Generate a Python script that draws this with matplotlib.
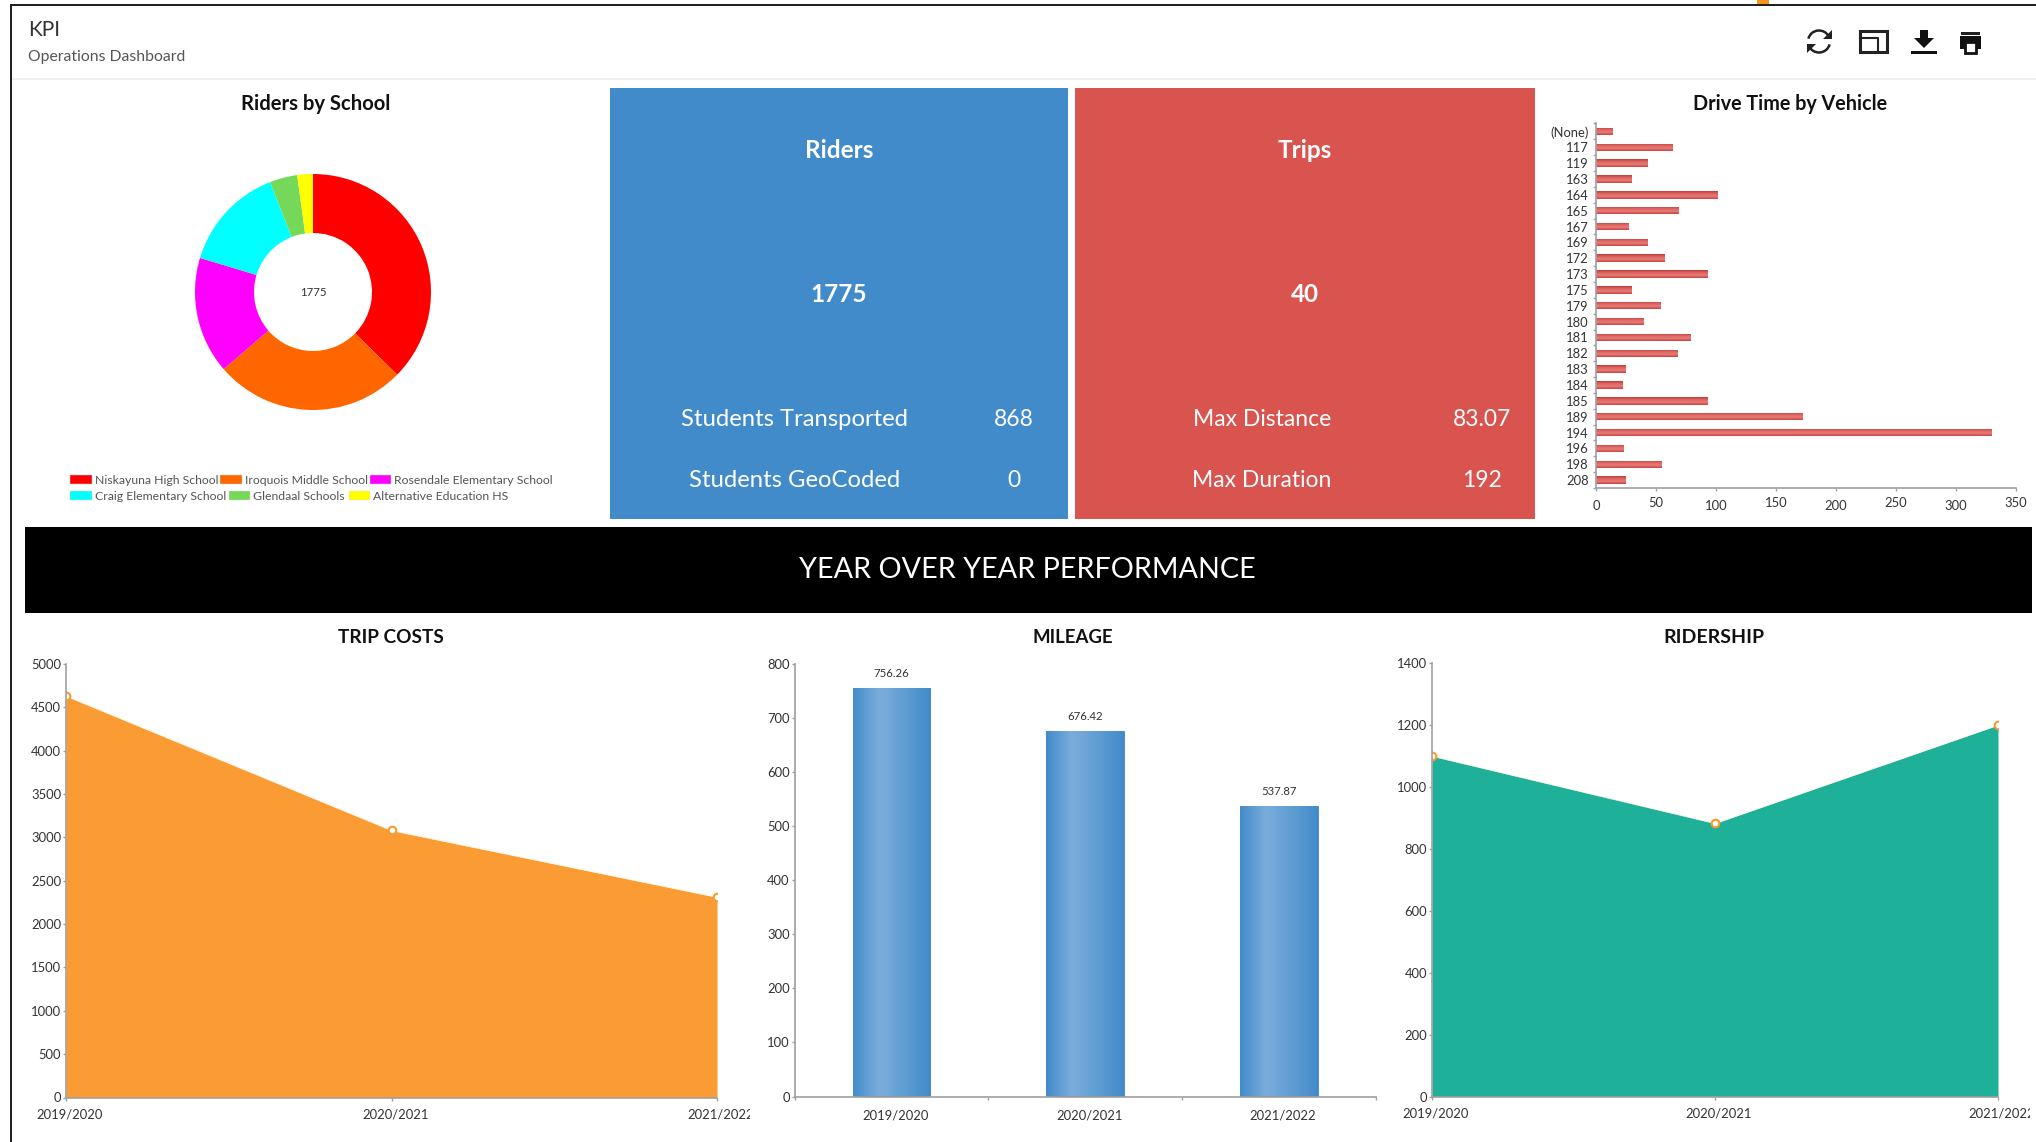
#!/usr/bin/python3
"""KPI operations dashboard."""
import numpy as np
import matplotlib
matplotlib.use('Agg')
import matplotlib.pyplot as plt
from matplotlib.colors import LinearSegmentedColormap
from matplotlib.patches import Rectangle, Polygon, Arc
from matplotlib.transforms import Bbox, ScaledTranslation

plt.rcParams['font.family'] = ['Lato', 'DejaVu Sans']

W, H = 2036, 1142

# riders by school
schools = ['Niskayuna High School', 'Iroquois Middle School',
           'Rosendale Elementary School', 'Craig Elementary School',
           'Glendaal Schools', 'Alternative Education HS']
school_riders = [663, 467, 284, 256, 67, 38]
school_colors = ['#ff0000', '#ff6600', '#ff00ff', '#00ffff', '#75d858', '#ffff00']

# drive time
vehicles = ['(None)', '117', '119', '163', '164', '165', '167', '169', '172',
            '173', '175', '179', '180', '181', '182', '183', '184', '185',
            '189', '194', '196', '198', '208']
drive_time = [14, 64, 43, 30, 101, 69, 27, 43, 57, 93, 30, 54, 40, 79, 68, 25,
              22, 93, 172, 330, 23, 55, 25]

# year over year
years = ['2019/2020', '2020/2021', '2021/2022']
trip_costs = [4630, 3080, 2310]
mileage = [756.26, 676.42, 537.87]
ridership = [1098, 881, 1198]

GRID = '#a0a0a0'
TICK_TEXT = '#333333'


def axes_px(fig, x0, y0, x1, y1):
  # pixel box measured from the top left of the picture
  return fig.add_axes([x0 / W, 1 - y1 / H, (x1 - x0) / W, (y1 - y0) / H])


def style_axes(ax):
  ax.patch.set_alpha(0)
  for name in ['top', 'right']:
    ax.spines[name].set_visible(False)
  for name in ['left', 'bottom']:
    ax.spines[name].set_color(GRID)
    ax.spines[name].set_linewidth(1.2)
  ax.tick_params(colors=TICK_TEXT, labelsize=9.4, length=2.5, width=1,
                 color=GRID, pad=1)


def shift_labels(ax, fig, dx_px):
  # category labels in the original sit a few pixels right of their ticks
  offset = ScaledTranslation(dx_px / 100, 0, fig.dpi_scale_trans)
  for lbl in ax.get_xticklabels():
    lbl.set_transform(lbl.get_transform() + offset)


def area_chart(fig, box, values, ymax, ystep, color, clip_x):
  ax = axes_px(fig, *box)
  style_axes(ax)
  xs = np.arange(len(values))
  ax.fill_between(xs, values, 0, color=color, lw=0)
  ax.plot(xs, values, color='#fff4e0', lw=0.8, alpha=0.7)
  ax.plot(xs, values, ls='none', marker='o', ms=5.5, mfc='white',
          mec='#f99a2f', mew=1.5)
  ax.set_xlim(0, len(values) - 1)
  ax.set_ylim(0, ymax)
  ax.set_yticks(np.arange(0, ymax + 1, ystep))
  ax.set_xticks(xs)
  ax.set_xticklabels(years)
  ax.tick_params(axis='x', pad=5.5)
  shift_labels(ax, fig, 4)
  clip = Bbox([[0, 0], [clip_x, H]])
  for lbl in ax.get_xticklabels():
    lbl.set_clip_box(clip)
    lbl.set_clip_on(True)
  return ax


def gradient_fill(ax, bars, stops, horizontal):
  # lay a clipped gradient over each bar for the glossy look of the original
  cmap = LinearSegmentedColormap.from_list('bar', stops)
  ramp = np.linspace(0, 1, 128)
  ramp = ramp.reshape(1, -1) if horizontal else ramp.reshape(-1, 1)
  xlim, ylim = ax.get_xlim(), ax.get_ylim()
  for b in bars:
    x, y, w, h = b.get_x(), b.get_y(), b.get_width(), b.get_height()
    im = ax.imshow(ramp, cmap=cmap, aspect='auto', zorder=b.get_zorder() + 0.1,
                   extent=[x, x + w, y, y + h], origin='upper')
    im.set_clip_path(b)
  ax.set_xlim(xlim)
  ax.set_ylim(ylim)


def draw_chrome(bg):
  # frame lines
  bg.add_patch(Rectangle((10, 4), 2026, 2.2, color='#222222', lw=0))
  bg.add_patch(Rectangle((10, 4), 2, H - 4, color='#222222', lw=0))
  bg.add_patch(Rectangle((1757, 0), 12, 4, color='#f7941d', lw=0))
  bg.add_patch(Rectangle((12, 78), 2024, 2, color='#f0f0f0', lw=0))
  bg.text(28, 30.5, 'KPI', fontsize=15, color='#333333', va='center')
  bg.text(28, 57.5, 'Operations Dashboard', fontsize=11.3, color='#555555', va='center')

  # cards
  bg.add_patch(Rectangle((610, 88), 458, 431, color='#428bca', lw=0))
  bg.add_patch(Rectangle((1075, 88), 460, 431, color='#d9534f', lw=0))
  card_text = [
    (839, 150.5, 'Riders', 17.5, 'bold'), (839, 294.5, '1775', 17.5, 'bold'),
    (1305, 150.5, 'Trips', 17.5, 'bold'), (1305, 294.5, '40', 17.5, 'bold'),
    (794.5, 419.5, 'Students Transported', 17.2, 'normal'), (1014, 419.5, '868', 16.5, 'normal'),
    (794.5, 480.5, 'Students GeoCoded', 17.2, 'normal'), (1014, 480.5, '0', 16.5, 'normal'),
    (1262, 419.5, 'Max Distance', 16.5, 'normal'), (1482, 419.5, '83.07', 16.5, 'normal'),
    (1262, 480.5, 'Max Duration', 16.5, 'normal'), (1482, 480.5, '192', 16.5, 'normal'),
  ]
  for x, y, s, size, weight in card_text:
    bg.text(x, y, s, color='white', fontsize=size, fontweight=weight,
            ha='center', va='center')

  # banner
  bg.add_patch(Rectangle((25, 527), 2007, 86, color='black', lw=0))
  bg.text(1027, 570, 'YEAR OVER YEAR PERFORMANCE', color='white', fontsize=20.7,
          ha='center', va='center')

  # chart titles
  titles = [(316, 104.5, 'Riders by School', 14.6), (1790, 104.5, 'Drive Time by Vehicle', 14.2),
            (390.5, 637.5, 'TRIP COSTS', 13.7), (1073, 637.5, 'MILEAGE', 13.4),
            (1714, 637.5, 'RIDERSHIP', 14)]
  for x, y, s, size in titles:
    bg.text(x, y, s, color='#111111', fontsize=size, fontweight='bold',
            ha='center', va='center')


def draw_icons(bg):
  ink = '#222222'
  # refresh
  bg.add_patch(Arc((1819, 41.5), 22, 22, theta1=195, theta2=335, color=ink, lw=1.8))
  bg.add_patch(Arc((1819, 41.5), 22, 22, theta1=15, theta2=155, color=ink, lw=1.8))
  bg.add_patch(Polygon([(1832, 30), (1832, 39), (1823, 39)], color=ink, lw=0))
  bg.add_patch(Polygon([(1807, 53), (1807, 44), (1816, 44)], color=ink, lw=0))
  # window
  bg.add_patch(Rectangle((1860, 31), 27, 20.5, fill=False, ec=ink, lw=2.2))
  bg.plot([1860, 1878, 1878], [38, 38, 51], color=ink, lw=1.5)
  # download
  bg.add_patch(Polygon([(1920, 30), (1928, 30), (1928, 38), (1934, 38), (1924, 48),
                        (1914, 38), (1920, 38)], color='#111111', lw=0))
  bg.add_patch(Rectangle((1911, 51), 26, 3, color='#111111', lw=0))
  # printer
  bg.add_patch(Rectangle((1961, 32), 19, 3, color=ink, lw=0))
  bg.add_patch(Rectangle((1960, 36), 21, 13, color='#111111', lw=0))
  bg.add_patch(Rectangle((1965, 42), 11, 11, fc='white', ec='#111111', lw=2))


def main():
  fig = plt.figure(figsize=(W / 100, H / 100), dpi=100, facecolor='white')

  bg = fig.add_axes([0, 0, 1, 1])
  bg.set_xlim(0, W)
  bg.set_ylim(H, 0)
  bg.axis('off')
  draw_chrome(bg)
  draw_icons(bg)

  # donut
  ax = axes_px(fig, 195, 174, 431, 410)
  ax.pie(school_riders, colors=school_colors, startangle=90, counterclock=False,
         radius=1, wedgeprops={'width': 0.5, 'linewidth': 0})
  ax.set_xlim(-1, 1)
  ax.set_ylim(-1, 1)
  ax.text(0, 0, str(sum(school_riders)), fontsize=8.2, color='#333333',
          ha='center', va='center')

  # legend rows are not aligned in the original, so place them one by one
  swatch_x = [70, 220, 370, 70, 229, 349.5]
  swatch_w = [22, 22, 21.5, 22, 21, 20.5]
  row_y = [479, 479, 479, 495, 495, 495]
  for name, color, x, w, y in zip(schools, school_colors, swatch_x, swatch_w, row_y):
    bg.add_patch(Rectangle((x, y - 4.5), w, 9, fc=color, ec='#dddddd', lw=0.3))
    bg.text(x + w + 3, y + 1, name, fontsize=8.8, color='#555555', va='center')

  # drive time
  ax = axes_px(fig, 1596, 123.5, 2016, 488)
  style_axes(ax)
  ys = np.arange(len(vehicles))
  bars = ax.barh(ys, drive_time, height=0.47, color='#d9534f', lw=0)
  ax.set_xlim(0, 350)
  ax.set_ylim(len(vehicles) - 0.5, -0.5)
  gradient_fill(ax, bars, ['#c8403c', '#e67c78', '#dd6561', '#c23c38'], False)
  ax.set_yticks(ys)
  ax.set_yticklabels(vehicles)
  ax.set_yticks(np.arange(len(vehicles) + 1) - 0.5, minor=True)
  ax.tick_params(axis='y', which='major', length=0, pad=5, labelsize=9.4)
  ax.tick_params(axis='y', which='minor', length=2.5, width=1, color=GRID)
  ax.set_xticks(np.arange(0, 351, 50))
  for i, tick in enumerate(ax.xaxis.get_major_ticks()):
    tick.set_pad(6 if i % 2 == 0 else 4)

  # trip costs
  area_chart(fig, (66, 664, 717, 1097.5), trip_costs, 5000, 500, '#fb9b33', 750)

  # mileage
  ax = axes_px(fig, 794.5, 664, 1376, 1096.5)
  style_axes(ax)
  xs = np.arange(len(years))
  bars = ax.bar(xs, mileage, width=0.4, color='#428bca', ec='#3f85c2', lw=0.6)
  ax.set_xlim(-0.5, 2.5)
  ax.set_ylim(0, 800)
  gradient_fill(ax, bars, ['#428bca', '#7baddc', '#5f9dd3', '#428bca'], True)
  ax.set_yticks(np.arange(0, 801, 100))
  ax.set_xticks(xs)
  ax.set_xticklabels(years)
  ax.set_xticks(np.arange(len(years) + 1) - 0.5, minor=True)
  ax.tick_params(axis='x', which='major', length=0, pad=9.5)
  ax.tick_params(axis='x', which='minor', length=2.5, width=1, color=GRID)
  shift_labels(ax, fig, 4)
  for x, v in zip(xs, mileage):
    ax.annotate('%.2f' % v, (x, v), xytext=(0, 10.5), textcoords='offset points',
                ha='center', va='center', fontsize=8.2, color='#333333')

  # ridership
  area_chart(fig, (1432, 662.5, 1998, 1096.5), ridership, 1400, 200, '#1eb098', 2030)

  fig.savefig('out.png', dpi=100)


main()
